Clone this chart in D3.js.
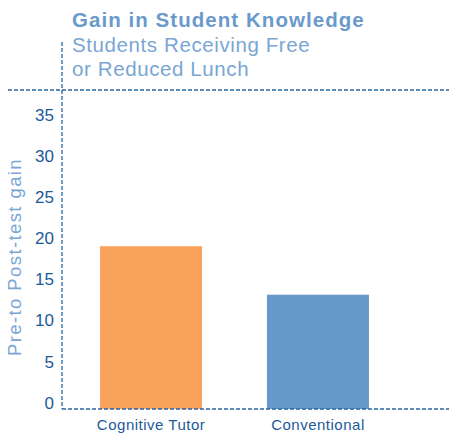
<!DOCTYPE html>
<html>
<head>
<meta charset="utf-8">
<script src="https://cdn.jsdelivr.net/npm/d3@7"></script>
<style>
  body { margin: 0; background: #fff; }
  text { font-family: "Liberation Sans", Arial, sans-serif; }
</style>
</head>
<body>
<script>
// chart data
var categories = ["Cognitive Tutor", "Conventional"];
var gains = [19.8, 13.9];
var barColors = ["#f9a25c", "#6699c9"];
var yTicks = [0, 5, 10, 15, 20, 25, 30, 35];

var width = 449, height = 433;
var axisColor = "#2766a3";

var svg = d3.select("body").append("svg")
    .attr("width", width)
    .attr("height", height);

var x = d3.scaleBand()
    .domain(categories)
    .range([62, 407])
    .paddingInner(0.389)
    .paddingOuter(0.228);

var y = d3.scaleLinear()
    .domain([0, 38.8])
    .range([409, 90]);

// title block
svg.append("text")
    .attr("x", 72).attr("y", 27)
    .attr("fill", "#6a9acb")
    .style("font-size", "20.5px").style("font-weight", "bold")
    .style("letter-spacing", "1.05px")
    .text("Gain in Student Knowledge");

svg.append("text")
    .attr("x", 72).attr("y", 52)
    .attr("fill", "#79a6d4")
    .style("font-size", "20.5px")
    .style("letter-spacing", "0.6px")
    .text("Students Receiving Free");

svg.append("text")
    .attr("x", 72).attr("y", 76)
    .attr("fill", "#79a6d4")
    .style("font-size", "20.5px")
    .style("letter-spacing", "0.6px")
    .text("or Reduced Lunch");

// bars
svg.append("g").selectAll("rect")
    .data(gains)
    .enter().append("rect")
    .attr("x", function(d, i) { return x(categories[i]); })
    .attr("y", function(d) { return y(d); })
    .attr("width", x.bandwidth())
    .attr("height", function(d) { return y(0) - y(d); })
    .attr("fill", function(d, i) { return barColors[i]; });

// dashed frame lines
var frame = svg.append("g")
    .attr("stroke", axisColor)
    .attr("stroke-width", 1.3)
    .attr("stroke-dasharray", "4,2");
frame.append("line")
    .attr("x1", 62).attr("x2", 62)
    .attr("y1", 42).attr("y2", y(0));
frame.append("line")
    .attr("x1", 8).attr("x2", width)
    .attr("y1", y.range()[1]).attr("y2", y.range()[1]);
frame.append("line")
    .attr("x1", 62).attr("x2", width)
    .attr("y1", y(0)).attr("y2", y(0));

// y tick labels
var yAxis = d3.axisLeft(y).tickValues(yTicks).tickSize(0).tickPadding(8);
var yg = svg.append("g").attr("transform", "translate(62,0)").call(yAxis);
yg.select(".domain").remove();
yg.selectAll("text")
    .attr("fill", "#1b5a99")
    .attr("dy", "-0.05em")
    .style("font-size", "17px")
    .style("font-family", "'Liberation Sans', Arial, sans-serif");

// x category labels
var xAxis = d3.axisBottom(x).tickSize(0).tickPadding(10);
var xg = svg.append("g").attr("transform", "translate(0," + y(0) + ")").call(xAxis);
xg.select(".domain").remove();
xg.selectAll("text")
    .attr("fill", "#1b5a99")
    .style("font-size", "15px")
    .style("letter-spacing", "0.5px")
    .style("font-family", "'Liberation Sans', Arial, sans-serif");

// y axis title
svg.append("text")
    .attr("transform", "translate(21,257) rotate(-90)")
    .attr("text-anchor", "middle")
    .attr("fill", "#79a6d4")
    .style("font-size", "18.5px")
    .style("letter-spacing", "1.4px")
    .text("Pre-to Post-test gain");
</script>
</body>
</html>
